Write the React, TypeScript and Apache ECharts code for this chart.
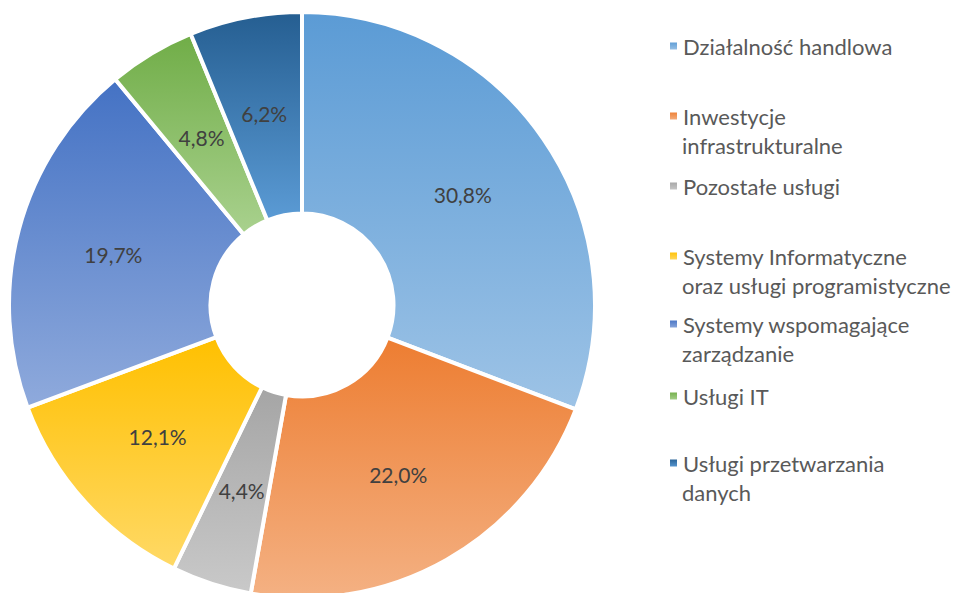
import React, { useEffect, useRef } from "react";
import * as echarts from "echarts";

const categories = [
  "Działalność handlowa",
  "Inwestycje infrastrukturalne",
  "Pozostałe usługi",
  "Systemy Informatyczne oraz usługi programistyczne",
  "Systemy wspomagające zarządzanie",
  "Usługi IT",
  "Usługi przetwarzania danych",
];
const legendLines: string[][] = [
  ["Działalność handlowa"],
  ["Inwestycje", "infrastrukturalne"],
  ["Pozostałe usługi"],
  ["Systemy Informatyczne", "oraz usługi programistyczne"],
  ["Systemy wspomagające", "zarządzanie"],
  ["Usługi IT"],
  ["Usługi przetwarzania", "danych"],
];
const values = [30.8, 22.0, 4.4, 12.1, 19.7, 4.8, 6.2];
const topColors = ["#5B9BD5", "#ED7D31", "#A5A5A5", "#FFC000", "#4472C4", "#70AD47", "#255E91"];
const bottomColors = ["#9DC3E6", "#F4B183", "#C9C9C9", "#FFD966", "#8FAADC", "#A9D18E", "#5B9BD5"];
const legendCenters = [46, 116, 186, 256, 324, 396, 463];

const FONT = "Lato";
const FS = 21;
const LEGEND_FS = 22;
const LINE_H = 29;

export default function App() {
  const ref = useRef<HTMLDivElement>(null);
  useEffect(() => {
    if (!ref.current) return;
    const chart = echarts.init(ref.current, null, { renderer: "svg" });
    const legends = categories.map((name, i) => ({
      show: true,
      orient: "vertical",
      left: 668,
      top: legendCenters[i] - LINE_H / 2,
      padding: 0,
      itemWidth: 9,
      itemHeight: 9,
      itemGap: 0,
      icon: "rect",
      selectedMode: false,
      data: [name],
      formatter: () => legendLines[i][0],
      textStyle: {
        color: "#595959",
        fontFamily: FONT,
        fontSize: LEGEND_FS,
        lineHeight: LINE_H,
      },
    }));
    const secondLines = categories
      .map((_, i) =>
        legendLines[i].length > 1
          ? {
              type: "text",
              x: 682,
              y: legendCenters[i] + LINE_H,
              style: {
                text: legendLines[i][1],
                fill: "#595959",
                fontFamily: FONT,
                fontSize: LEGEND_FS,
                verticalAlign: "middle",
                align: "left",
              },
            }
          : null
      )
      .filter(Boolean);
    chart.setOption({
      animation: false,
      legend: legends,
      graphic: secondLines,
      series: [
        {
          type: "pie",
          center: [302, 305],
          radius: [91.5, 293],
          startAngle: 90,
          clockwise: true,
          avoidLabelOverlap: false,
          itemStyle: { borderColor: "#ffffff", borderWidth: 4 },
          label: {
            show: true,
            position: "inside",
            color: "#404040",
            fontFamily: FONT,
            fontSize: FS,
            formatter: (p: any) => p.value.toFixed(1).replace(".", ",") + "%",
          },
          labelLine: { show: false },
          emphasis: { disabled: true },
          data: categories.map((name, i) => ({
            name,
            value: values[i],
            itemStyle: {
              color: new echarts.graphic.LinearGradient(0, 0, 0, 1, [
                { offset: 0, color: topColors[i] },
                { offset: 1, color: bottomColors[i] },
              ]),
            },
          })),
        },
      ],
    });
    return () => chart.dispose();
  }, []);
  return (
    <div
      ref={ref}
      style={{ position: "fixed", left: 0, top: 0, width: 960, height: 593, background: "#fff" }}
    />
  );
}
